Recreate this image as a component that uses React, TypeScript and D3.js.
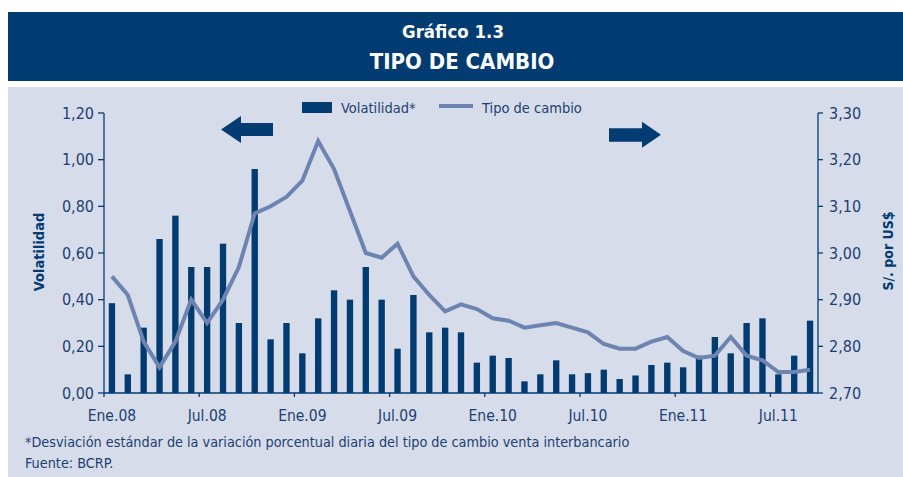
import React from "react";
import * as d3 from "d3";

const months: string[] = [];
const yearsShort = ["08", "09", "10", "11"];
const monthNames = ["Ene", "Feb", "Mar", "Abr", "May", "Jun", "Jul", "Ago", "Set", "Oct", "Nov", "Dic"];
for (const y of yearsShort) for (const m of monthNames) months.push(`${m}.${y}`);
const categories = months.slice(0, 45);

const volatilidad = [0.385, 0.08, 0.28, 0.66, 0.76, 0.54, 0.54, 0.64, 0.30, 0.96, 0.23, 0.30, 0.17, 0.32, 0.44, 0.40, 0.54, 0.40, 0.19, 0.42, 0.26, 0.28, 0.26, 0.13, 0.16, 0.15, 0.05, 0.08, 0.14, 0.08, 0.085, 0.10, 0.06, 0.075, 0.12, 0.13, 0.11, 0.16, 0.24, 0.17, 0.30, 0.32, 0.08, 0.16, 0.31];
const tipoCambio = [2.95, 2.91, 2.81, 2.755, 2.81, 2.90, 2.85, 2.90, 2.97, 3.085, 3.10, 3.12, 3.155, 3.24, 3.18, 3.09, 3.00, 2.99, 3.02, 2.95, 2.91, 2.875, 2.89, 2.88, 2.86, 2.855, 2.84, 2.845, 2.85, 2.84, 2.83, 2.805, 2.795, 2.795, 2.81, 2.82, 2.79, 2.775, 2.78, 2.82, 2.78, 2.77, 2.745, 2.745, 2.75];
const xTickLabels = ["Ene.08", "Jul.08", "Ene.09", "Jul.09", "Ene.10", "Jul.10", "Ene.11", "Jul.11"];
const leftTicks = [0, 0.2, 0.4, 0.6, 0.8, 1.0, 1.2];
const rightTicks = [2.7, 2.8, 2.9, 3.0, 3.1, 3.2, 3.3];

const NAVY = "#003b71";
const LINE = "#6e84b0";
const BG = "#d6dcea";
const TXT = "#1d3f72";
const FONT = "'Liberation Sans Narrow', 'DejaVu Sans Condensed', 'Open Sans', sans-serif";

const fmt = (v: number) => v.toFixed(2).replace(".", ",");

export default function App() {
  const W = 903, H = 477;
  const x0 = 104, x1 = 818, yTop = 113, yBot = 393;
  const x = d3.scaleBand<string>().domain(categories).range([x0, x1]).paddingInner(0).paddingOuter(0);
  const bw = x.bandwidth();
  const yL = d3.scaleLinear().domain([0, 1.2]).range([yBot, yTop]);
  const yR = d3.scaleLinear().domain([2.7, 3.3]).range([yBot, yTop]);
  const line = d3
    .line<number>()
    .x((_, i) => (x(categories[i]) as number) + bw / 2)
    .y((d) => yR(d));

  return (
    <svg width={W} height={H} style={{ position: "absolute", left: 0, top: 0 }} fontFamily={FONT}>
      <rect x={0} y={0} width={W} height={H} fill="#ffffff" />
      <rect x={8} y={12} width={W - 8} height={69} fill={NAVY} />
      <text x={453} y={38} textAnchor="middle" fill="#fff" fontSize={18.5} fontWeight="bold">Gráfico 1.3</text>
      <text x={462} y={69} textAnchor="middle" fill="#fff" fontSize={22} fontWeight="bold">TIPO DE CAMBIO</text>
      <rect x={8} y={87} width={W - 8} height={H - 87} fill={BG} />

      {/* bars */}
      {volatilidad.map((v, i) => (
        <rect key={i} x={(x(categories[i]) as number) + bw * 0.3} y={yL(v)} width={bw * 0.4} height={yBot - yL(v)} fill={NAVY} />
      ))}
      {/* line */}
      <path d={line(tipoCambio) as string} fill="none" stroke={LINE} strokeWidth={4} strokeLinejoin="miter" />

      {/* axes */}
      <line x1={x0} x2={x0} y1={yTop} y2={yBot} stroke={NAVY} strokeWidth={1.3} />
      <line x1={x1} x2={x1} y1={yTop} y2={yBot} stroke={NAVY} strokeWidth={1.3} />
      <line x1={x0} x2={x1} y1={yBot} y2={yBot} stroke={NAVY} strokeWidth={1.3} />
      {leftTicks.map((t) => (
        <g key={"l" + t}>
          <line x1={x0 - 6} x2={x0} y1={yL(t)} y2={yL(t)} stroke={NAVY} strokeWidth={1.3} />
          <text x={x0 - 10} y={yL(t) + 5.5} textAnchor="end" fontSize={16} fill={TXT}>{fmt(t)}</text>
        </g>
      ))}
      {rightTicks.map((t) => (
        <g key={"r" + t}>
          <line x1={x1} x2={x1 + 5} y1={yR(t)} y2={yR(t)} stroke={NAVY} strokeWidth={1.3} />
          <text x={x1 + 11} y={yR(t) + 5.5} textAnchor="start" fontSize={16} fill={TXT}>{fmt(t)}</text>
        </g>
      ))}
      {xTickLabels.map((lab) => {
        const xs = x(lab) as number;
        return (
          <g key={lab}>
            <line x1={xs} x2={xs} y1={yBot} y2={yBot + 4} stroke={NAVY} strokeWidth={1.3} />
            <text x={xs + bw / 2} y={421} textAnchor="middle" fontSize={15.5} fill={TXT}>{lab}</text>
          </g>
        );
      })}

      {/* axis titles */}
      <text transform="translate(44,252) rotate(-90)" textAnchor="middle" fontSize={14.5} fontWeight="bold" fill={NAVY}>Volatilidad</text>
      <text transform="translate(893,251) rotate(-90)" textAnchor="middle" fontSize={14} fontWeight="bold" fill={NAVY}>S/. por US$</text>

      {/* legend */}
      <rect x={302} y={102} width={30} height={11} fill={NAVY} />
      <text x={341} y={113} fontSize={14.5} fill={TXT}>Volatilidad*</text>
      <line x1={439} x2={473} y1={106} y2={106} stroke={LINE} strokeWidth={4} />
      <text x={482} y={113} fontSize={14.5} fill={TXT}>Tipo de cambio</text>

      {/* arrows */}
      <polygon points="221,129.5 241,116 241,123 273,123 273,136 241,136 241,143" fill={NAVY} />
      <polygon points="661,134.7 642,121.7 642,128.3 609,128.3 609,141.7 642,141.7 642,147.7" fill={NAVY} />

      {/* notes */}
      <text x={25} y={447} fontSize={14.3} fill={TXT}>*Desviación estándar de la variación porcentual diaria del tipo de cambio venta interbancario</text>
      <text x={25} y={468} fontSize={14.3} fill={TXT}>Fuente: BCRP.</text>
    </svg>
  );
}
